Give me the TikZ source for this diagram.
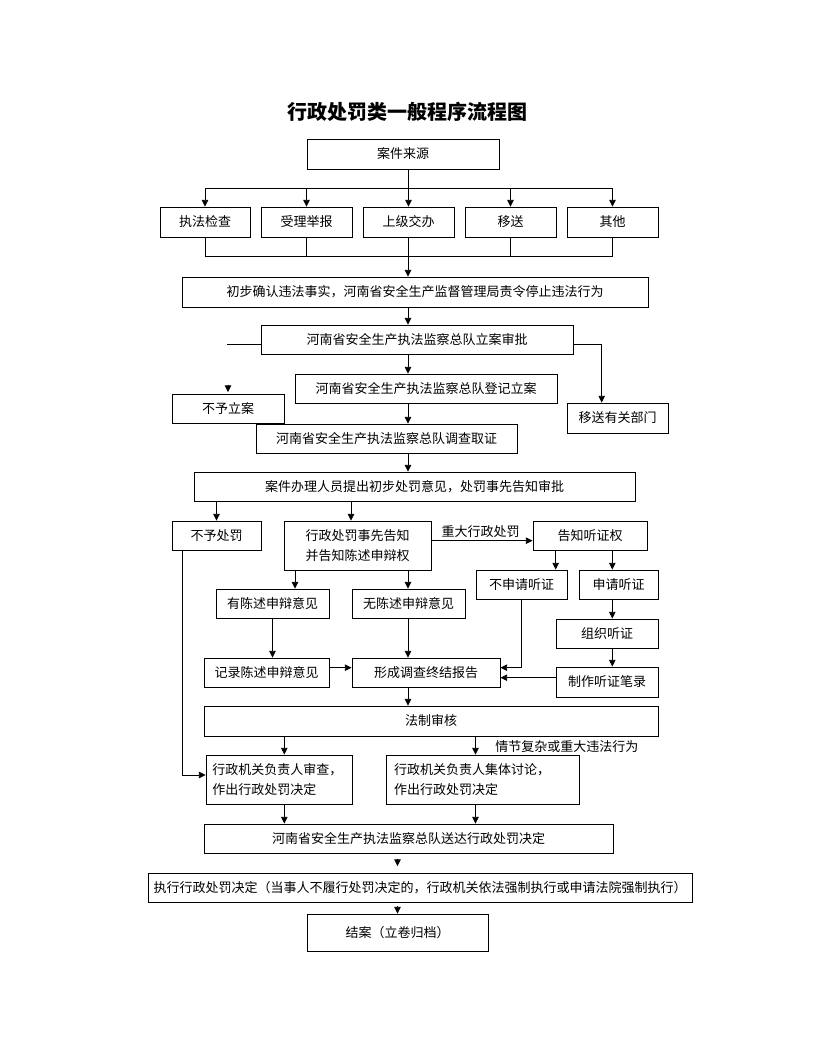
\documentclass[tikz,border=0pt]{standalone}
\usepackage{fontspec}
\newfontfamily\cjk{Noto Sans CJK SC}
\usetikzlibrary{arrows.meta,calc}
\newcommand\mybox[6][]{\node[box,#1,minimum width={(#4-#2)*0.75pt},minimum height={(#5-#3)*0.75pt}] (#6) at ({(#2+#4)/2},{(#3+#5)/2})}
\begin{document}
\begin{tikzpicture}[x=0.75pt,y=-0.75pt,
  box/.style={draw, line width=0.6pt, inner sep=0pt, font=\cjk\fontsize{9.75pt}{15pt}\selectfont},
  ln/.style={line width=0.6pt},
  arr/.style={-{Triangle[width=4.8pt,length=5pt]}},
  lbl/.style={inner sep=0pt, font=\cjk\fontsize{9.75pt}{15pt}\selectfont},
  ttl/.style={inner sep=0pt, font=\cjk\bfseries\fontsize{15pt}{18pt}\selectfont}]
\useasboundingbox (0,0) rectangle (816,1056);

\node[ttl] (title) at (407,111.7) {行政处罚类一般程序流程图};

% boxes
\mybox{307}{139}{499}{169}{src} {案件来源};
\mybox{160}{207}{250}{237}{s1} {执法检查};
\mybox{261}{207}{352}{237}{s2} {受理举报};
\mybox{363}{207}{454}{237}{s3} {上级交办};
\mybox{465}{207}{556}{237}{s4} {移送};
\mybox{567}{207}{658}{237}{s5} {其他};
\mybox{182}{277}{648}{307}{confirm} {初步确认违法事实，河南省安全生产监督管理局责令停止违法行为};
\mybox{261}{325}{573}{354}{approve} {河南省安全生产执法监察总队立案审批};
\mybox{295}{374}{557}{403}{register} {河南省安全生产执法监察总队登记立案};
\mybox{172}{394}{284}{423}{noCase} {不予立案};
\mybox{567}{403}{668}{433}{transfer} {移送有关部门};
\mybox{256}{424}{517}{453}{invest} {河南省安全生产执法监察总队调查取证};
\mybox{194}{472}{635}{501}{opinion} {案件办理人员提出初步处罚意见，处罚事先告知审批};
\mybox{172}{521}{261}{550}{noPen} {不予处罚};
\mybox[align=center]{284}{521}{431}{570}{notify} {行政处罚事先告知\\并告知陈述申辩权};
\mybox{533}{521}{647}{550}{hearRight} {告知听证权};
\mybox{476}{570}{567}{599}{noHear} {不申请听证};
\mybox{579}{570}{658}{599}{applyHear} {申请听证};
\mybox{216}{589}{329}{618}{haveStmt} {有陈述申辩意见};
\mybox{352}{589}{465}{618}{noStmt} {无陈述申辩意见};
\mybox{556}{619}{658}{648}{organize} {组织听证};
\mybox{204}{658}{329}{687}{record} {记录陈述申辩意见};
\mybox{352}{658}{500}{687}{report} {形成调查终结报告};
\mybox{556}{667}{658}{697}{minutes} {制作听证笔录};
\mybox{204}{706}{658}{736}{legal} {法制审核};
\mybox[align=left, text width=100pt]{206}{755}{352}{804}{review} {行政机关负责人审查，\\作出行政处罚决定};
\mybox[align=left, text width=132.75pt]{386}{755}{579}{804}{collective} {行政机关负责人集体讨论，\\作出行政处罚决定};
\mybox{204}{824}{613}{853}{deliver} {河南省安全生产执法监察总队送达行政处罚决定};
\mybox{148}{873}{692}{902}{execute} {执行行政处罚决定（当事人不履行处罚决定的，行政机关依法强制执行或申请法院强制执行）};
\mybox{307}{914}{488}{951}{close} {结案（立卷归档）};

% labels
\node[lbl] (lblMajor) at (480.7,531.7) {重大行政处罚};
\node[lbl, anchor=west] (lblComplex) at (495,746.7) {情节复杂或重大违法行为};

% helper coordinates
\coordinate (sp) at (408,0);
\coordinate (bus1) at (0,188.3);
\coordinate (bus2) at (0,256.7);
\coordinate (yB) at (0,344.3);
\coordinate (leftEnd) at (226.7,344.3);
\coordinate (trTurn) at (601.7,344.3);
\coordinate (xN) at (351,0);
\coordinate (yA) at (0,540.7);
\coordinate (xH1) at (555.7,0);
\coordinate (xH2) at (612.3,0);
\coordinate (xS1) at (295,0);
\coordinate (yR) at (0,667.7);
\coordinate (nhTurn) at (521.7,667.7);
\coordinate (yM) at (0,677.7);
\coordinate (xL1) at (284.3,0);
\coordinate (xL2) at (475.5,0);
\coordinate (npTurn) at (182.3,775);

% connectors
\draw[ln] (sp |- src.south) -- (sp |- bus1);
\draw[ln] (s1.north |- bus1) -- (s5.north |- bus1);
\foreach \n in {s1,s2,s3,s4,s5} {
  \draw[ln,arr] (\n.north |- bus1) -- (\n.north);
  \draw[ln] (\n.south) -- (\n.south |- bus2);
}
\draw[ln] (s1.south |- bus2) -- (s5.south |- bus2);
\draw[ln,arr] (sp |- bus2) -- (sp |- confirm.north);
\draw[ln,arr] (sp |- confirm.south) -- (sp |- approve.north);
\draw[ln] (approve.west |- yB) -- (leftEnd);
\draw[ln,arr] (approve.east |- yB) -- (trTurn) -- (trTurn |- transfer.north);
\draw[ln,arr] (sp |- approve.south) -- (sp |- register.north);
\draw[ln,arr] ($(noCase.north)+(0,-9)$) -- ($(noCase.north)+(0,-1.5)$);
\draw[ln,arr] (sp |- register.south) -- (sp |- invest.north);
\draw[ln,arr] (sp |- invest.south) -- (sp |- opinion.north);
\draw[ln,arr] (noPen.north |- opinion.south) -- (noPen.north);
\draw[ln,arr] (xN |- opinion.south) -- (xN |- notify.north);
\draw[ln,arr] (notify.east |- yA) -- (hearRight.west |- yA);
\draw[ln,arr] (xH1 |- hearRight.south) -- (xH1 |- noHear.north);
\draw[ln,arr] (xH2 |- hearRight.south) -- (xH2 |- applyHear.north);
\draw[ln,arr] (xS1 |- notify.south) -- (xS1 |- haveStmt.north);
\draw[ln,arr] (sp |- notify.south) -- (sp |- noStmt.north);
\draw[ln,arr] (xH2 |- applyHear.south) -- (xH2 |- organize.north);
\draw[ln,arr] (xH2 |- organize.south) -- (xH2 |- minutes.north);
\draw[ln,arr] (haveStmt.south) -- (haveStmt.south |- record.north);
\draw[ln,arr] (sp |- noStmt.south) -- (sp |- report.north);
\draw[ln,arr] (record.east |- yR) -- (report.west |- yR);
\draw[ln,arr] (nhTurn |- noHear.south) -- (nhTurn) -- (report.east |- yR);
\draw[ln,arr] (minutes.west |- yM) -- (report.east |- yM);
\draw[ln,arr] (sp |- report.south) -- (sp |- legal.north);
\draw[ln,arr] (xL1 |- legal.south) -- (xL1 |- review.north);
\draw[ln,arr] (xL2 |- legal.south) -- (xL2 |- collective.north);
\draw[ln,arr] (npTurn |- noPen.south) -- (npTurn) -- (review.west |- npTurn);
\draw[ln,arr] (xL1 |- review.south) -- (xL1 |- deliver.north);
\draw[ln,arr] (xL2 |- collective.south) -- (xL2 |- deliver.north);
% floating arrowheads
\draw[ln,arr] ($(execute.north -| close.north)+(0,-14)$) -- ++(0,7.5);
\draw[ln,arr] ($(close.north)+(0,-7.5)$) -- (close.north);
\end{tikzpicture}
\end{document}
